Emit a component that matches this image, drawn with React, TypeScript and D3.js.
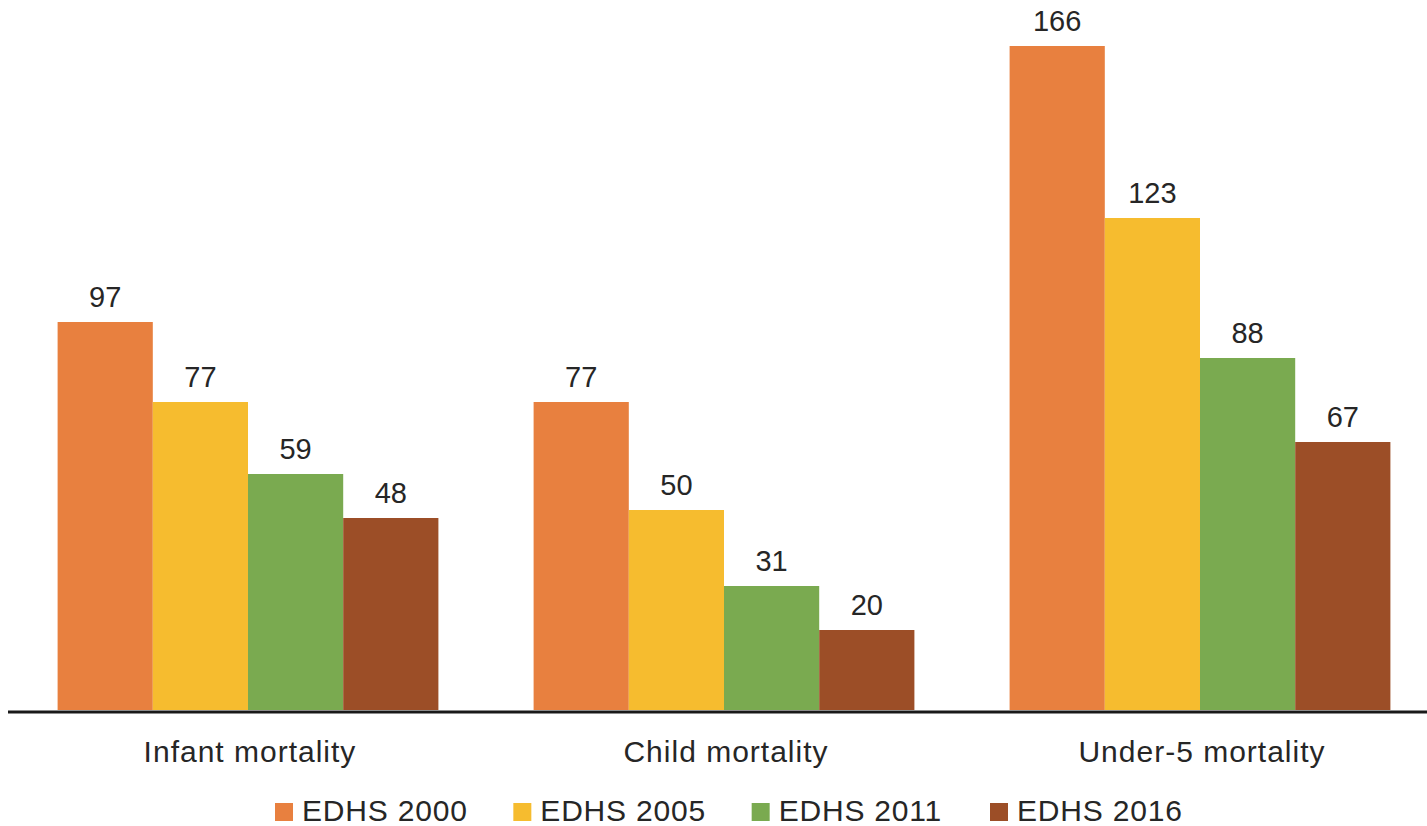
import React from "react";
import * as d3 from "d3";

const categories = ["Infant mortality", "Child mortality", "Under-5 mortality"];
const seriesNames = ["EDHS 2000", "EDHS 2005", "EDHS 2011", "EDHS 2016"];
const edhs2000 = [97, 77, 166];
const edhs2005 = [77, 50, 123];
const edhs2011 = [59, 31, 88];
const edhs2016 = [48, 20, 67];
const colors = ["#E8803F", "#F6BC2F", "#7AAA50", "#9C4E27"];

const W = 1427;
const H = 826;

export default function App() {
  const series = [edhs2000, edhs2005, edhs2011, edhs2016];
  const x0 = d3.scaleBand<string>().domain(categories).range([10, 1438]).paddingInner(0.2).paddingOuter(0.1);
  const x1 = d3.scaleBand<string>().domain(seriesNames).range([0, x0.bandwidth()]).padding(0);
  const y = d3.scaleLinear().domain([0, 166]).range([710, 46]);
  const textColor = "#262626";
  const font = "'Liberation Sans', Arial, Helvetica, sans-serif";
  const legendX = d3.scalePoint<string>().domain(seriesNames).range([275, 990]);

  return (
    <svg width={W} height={H} style={{ position: "absolute", left: 0, top: 0, background: "#fff" }} fontFamily={font}>
      {categories.map((c, ci) => (
        <g key={c} transform={`translate(${x0(c)},0)`}>
          {seriesNames.map((s, si) => {
            const v = series[si][ci];
            const bx = x1(s)!;
            return (
              <g key={s}>
                <rect x={bx} y={y(v)} width={x1.bandwidth()} height={y(0) - y(v)} fill={colors[si]} />
                <text x={bx + x1.bandwidth() / 2} y={y(v) - 15} textAnchor="middle" fontSize={29} fill={textColor}>
                  {v}
                </text>
              </g>
            );
          })}
          <text x={x0.bandwidth() / 2 + 2} y={762} textAnchor="middle" fontSize={30} letterSpacing={1} fill={textColor}>
            {c}
          </text>
        </g>
      ))}
      <line x1={8} x2={W} y1={712} y2={712} stroke="#1a1a1a" strokeWidth={3} />
      {seriesNames.map((s, si) => (
        <g key={s} transform={`translate(${legendX(s)},0)`}>
          <rect x={0} y={803} width={18} height={18} fill={colors[si]} />
          <text x={27} y={821} fontSize={30} letterSpacing={0.8} fill={textColor}>
            {s}
          </text>
        </g>
      ))}
    </svg>
  );
}
